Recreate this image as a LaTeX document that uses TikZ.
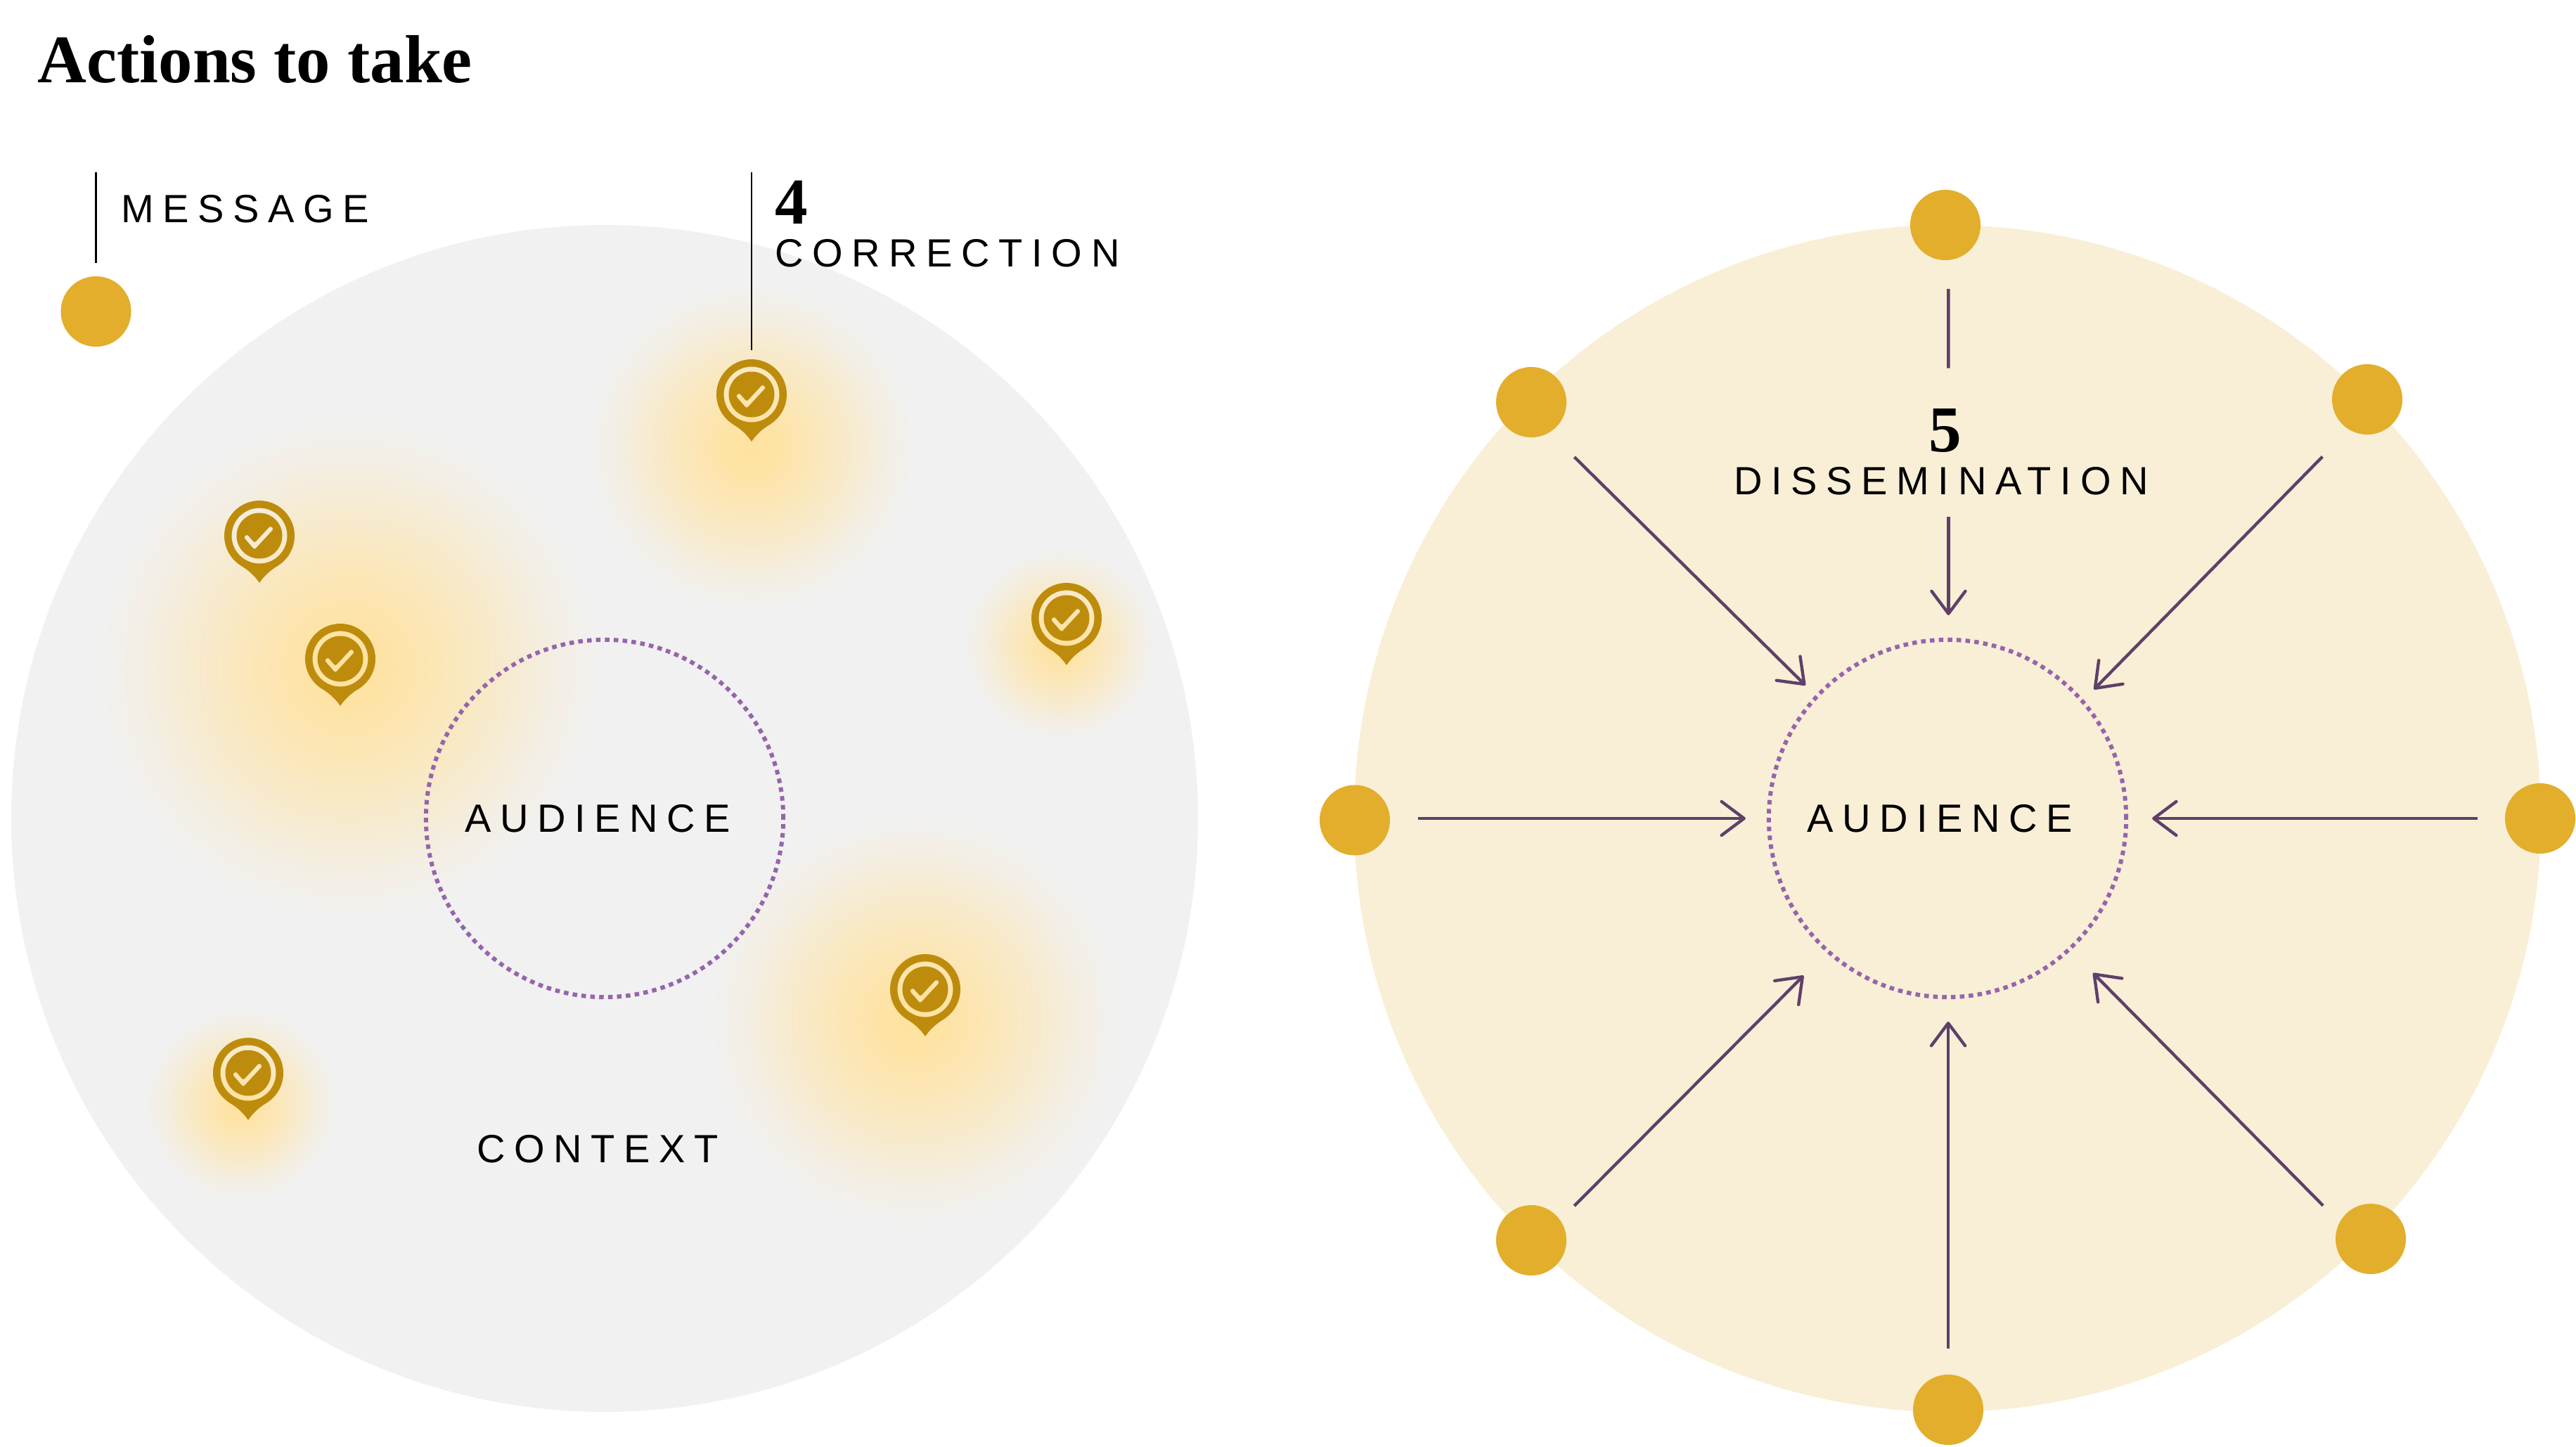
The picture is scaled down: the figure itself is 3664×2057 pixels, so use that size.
\documentclass[tikz,border=0pt]{standalone}
\usepackage{fontspec}
\usetikzlibrary{arrows.meta}
\setmainfont{Liberation Serif}
\newfontfamily\labfont[LetterSpace=22.6]{Liberation Sans}
\newfontfamily\headfont{Liberation Serif}[BoldFont=Liberation Serif Bold]
\definecolor{msgdot}{HTML}{E2AE2C}
\definecolor{arrowc}{HTML}{5E4069}
\definecolor{audc}{HTML}{9664AC}
\definecolor{greybg}{HTML}{F1F1F1}
\definecolor{creambg}{HTML}{F9EFD6}
\definecolor{pinc}{HTML}{BE8C0C}
\definecolor{glowc}{HTML}{FFE2A0}
\pgfdeclareradialshading{glowshade}{\pgfpointorigin}{color(0bp)=(glowc); color(4bp)=(glowc!93!greybg); color(10bp)=(glowc!68!greybg); color(15bp)=(glowc!44!greybg); color(20bp)=(glowc!18!greybg); color(25bp)=(greybg); color(50bp)=(greybg)}
\tikzset{
  x=0.01cm,y=-0.01cm,
  dotnode/.style={circle,fill=msgdot,draw=none,minimum size=1cm,inner sep=0pt,outer sep=0pt},
  audnode/.style={circle,draw=audc,line width=1.7pt,dash pattern=on 1.85pt off 1.75pt,minimum size=5.08cm,inner sep=0pt,outer sep=0pt},
  pinbase/.style={circle,draw=none,minimum size=1cm,inner sep=0pt,outer sep=0pt},
  lab/.style={anchor=base west,inner sep=0pt,outer sep=0pt,text=black,font=\fontsize{15.93pt}{18pt}\labfont},
  numeral/.style={anchor=base west,inner sep=0pt,outer sep=0pt,text=black,font=\fontsize{26.5pt}{28pt}\headfont\bfseries},
  titlenode/.style={anchor=base west,inner sep=0pt,outer sep=0pt,text=black,font=\fontsize{27.5pt}{30pt}\headfont\bfseries},
  arrowlink/.style={draw=arrowc,line width=1.25pt,-{Straight Barb[length=0.32cm,width=0.48cm,round]}},
  plainlink/.style={draw=arrowc,line width=1.25pt},
  leader/.style={draw=black,line width=0.75pt},
  pinmark/.pic={
    \fill[pinc] (0,67) .. controls (-6,58) and (-14,50) .. (-27,42) -- (27,42) .. controls (14,50) and (6,58) .. (0,67) -- cycle;
    \fill[pinc,even odd rule] (0,0) circle[radius=50] (0,0) circle[radius=39.5] (0,0) circle[radius=32.5]
      [rounded corners=0.8pt] (-17.54,-2.13) -- (-6.92,10.13) -- (15.61,-14.21) -- (20.39,-9.79) -- (-7.08,19.87) -- (-22.46,2.13) -- cycle;
  }
}
\begin{document}
\begin{tikzpicture}
\useasboundingbox (0,0) rectangle (3664,2057);
\fill[white] (0,0) rectangle (3664,2057);
% large discs
\node[circle,fill=greybg,minimum size=16.87cm,inner sep=0pt,outer sep=0pt] (ctx) at (860,1164) {};
\node[circle,fill=creambg,minimum size=16.87cm,inner sep=0pt,outer sep=0pt] (ring) at (2770,1164) {};
% glows
\foreach \gx/\gy/\gr in {1068/636/235, 495/950/360, 1507/916/138, 1300/1450/295, 343/1570/138}{
  \shade[shading=glowshade] (\gx,\gy) circle[radius=\gr];
}
% title
\node[titlenode] (title) at (54,117) {Actions to take};
% legend
\node[dotnode] (dMsg) at (136.5,443) {};
\coordinate (msgTop) at (136.5,245);
\draw[leader,shorten >=0.19cm] (msgTop) -- (dMsg.north);
\node[lab] (lMsg) at (172,316) {MESSAGE};
% correction
\foreach \n/\px/\py in {1/1069/561, 2/369/762, 3/484/937, 4/1517/879, 5/1316/1407, 6/353/1526}{
  \node[pinbase] (pin\n) at (\px,\py) {};
  \pic at (pin\n) {pinmark};
}
\coordinate (corTop) at (1069,245);
\draw[leader,shorten >=0.13cm] (corTop) -- (pin1.north);
\node[numeral] (n4) at (1102,318) {4};
\node[lab] (lCor) at (1102,379) {CORRECTION};
% left audience
\node[audnode] (audL) at (860,1164) {};
\node[lab] (lAudL) at (661,1183.5) {AUDIENCE};
\node[lab] (lCtx) at (678,1653) {CONTEXT};
% right audience
\node[audnode] (aud) at (2770,1164) {};
\node[lab] (lAud) at (2570,1183.5) {AUDIENCE};
\node[numeral] (n5) at (2743,642) {5};
\node[lab] (lDis) at (2466,703.5) {DISSEMINATION};
% dots
\node[dotnode] (dTop) at (2767,320) {};
\node[dotnode] (dTL) at (2178,572) {};
\node[dotnode] (dTR) at (3367,568) {};
\node[dotnode] (dLeft) at (1927,1166.5) {};
\node[dotnode] (dRight) at (3613,1164) {};
\node[dotnode] (dBL) at (2178,1764) {};
\node[dotnode] (dBR) at (3372,1762) {};
\node[dotnode] (dBot) at (2771,2005) {};
% connectors
\coordinate (gapTop) at (2771.4,523.5);
\coordinate (gapBot) at (2771.4,735);
\coordinate (gapEnd) at (2771.4,875);
\coordinate (botEnd) at (2771,1453);
\draw[plainlink,shorten <=0.41cm] (dTop.-85) -- (gapTop);
\draw[arrowlink] (gapBot) -- (gapEnd);
\draw[arrowlink,shorten <=0.50cm,shorten >=0.228cm] (dTL.-59) -- (aud.137.7);
\draw[arrowlink,shorten <=0.54cm,shorten >=0.236cm] (dTR.239.75) -- (aud.41.97);
\draw[arrowlink,shorten <=0.395cm,shorten >=0.33cm] (dLeft.east |- aud.west) -- (aud.west);
\draw[arrowlink,shorten <=0.39cm,shorten >=0.37cm] (dRight.west) -- (aud.east);
\draw[arrowlink,shorten <=0.285cm,shorten >=0.49cm] (dBL.35.2) -- (aud.228.19);
\draw[arrowlink,shorten <=0.336cm,shorten >=0.48cm] (dBR.152.3) -- (aud.-47.7);
\draw[arrowlink,shorten <=0.37cm] (dBot.north) -- (botEnd);
\end{tikzpicture}
\end{document}
